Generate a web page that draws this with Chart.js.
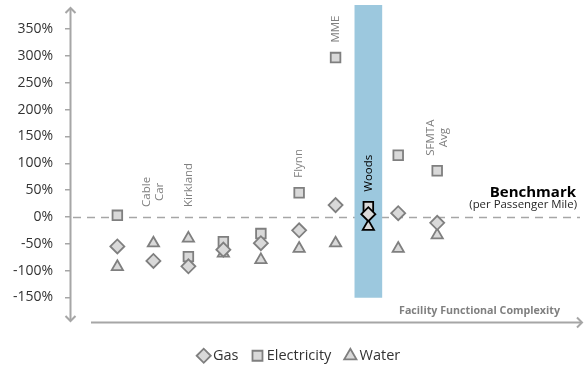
<!DOCTYPE html>
<html>
<head>
<meta charset="utf-8">
<script src="https://cdn.jsdelivr.net/npm/chart.js@4/dist/chart.umd.min.js"></script>
<style>
  html, body { margin: 0; padding: 0; background: #ffffff; }
  canvas { display: block; }
</style>
</head>
<body>
<canvas id="chart" width="586" height="366"></canvas>
<script>
// Facilities, ordered by functional complexity (x) — multi-line names are arrays of lines
const facilities = [[], ['Cable', 'Car'], ['Kirkland'], [], [], ['Flynn'], ['MME'], ['Woods'], [], ['SFMTA', 'Avg']];
const complexity = [1.0, 1.99, 2.95, 3.91, 4.94, 5.99, 6.99, 7.89, 8.71, 9.78];

// Consumption relative to benchmark (%)
const gas         = [-55, -82, -92, -61, -49, -25, 22, 5, 7, -11];
const electricity = [3, null, -74, -46, -31, 45, 297, 19, 115, 86];
const water       = [-93, -49, -40, -68, -80, -59, -49, -18, -59, -34];

const yTickValues = [-150, -100, -50, 0, 50, 100, 150, 200, 250, 300, 350];
const highlightName = 'Woods';
const highlightSpan = [-150, 395];

const benchmarkTitle = 'Benchmark';
const benchmarkNote = '(per Passenger Mile)';
const xAxisTitle = 'Facility Functional Complexity';

const FONT = "'Open Sans', 'Noto Sans', sans-serif";
const AXIS = '#a6a6a6';
const FILL = '#d9d9d9';
const EDGE = '#7f7f7f';

const hiIndex = facilities.findIndex(f => f.join(' ') === highlightName);
const toPoints = vals => vals.map((v, i) => ({ x: complexity[i], y: v }));
const edgeFor = ctx => ctx.dataIndex === hiIndex ? '#000000' : EDGE;

function arrowHead(ctx, x, y, dx, dy, size) {
  // open chevron pointing in direction (dx, dy)
  const px = -dy, py = dx;
  ctx.beginPath();
  ctx.moveTo(x - dx * size + px * size, y - dy * size + py * size);
  ctx.lineTo(x, y);
  ctx.lineTo(x - dx * size - px * size, y - dy * size - py * size);
  ctx.stroke();
}

const decorations = {
  id: 'decorations',
  afterLayout(chart) {
    // legend sits a little right of the canvas centre
    if (chart.legend) {
      chart.legend.left += 11;
      chart.legend.right += 11;
    }
  },
  beforeDatasetsDraw(chart) {
    const { ctx, chartArea: a, scales: { y } } = chart;
    const y0 = Math.round(y.getPixelForValue(0)) + 0.5;
    ctx.save();
    ctx.strokeStyle = AXIS;
    ctx.lineWidth = 1.5;
    ctx.setLineDash([8, 6]);
    ctx.beginPath();
    ctx.moveTo(a.left + 3, y0);
    ctx.lineTo(a.right, y0);
    ctx.stroke();
    ctx.restore();
  },
  afterDatasetsDraw(chart) {
    const { ctx, chartArea: a, scales: { x, y } } = chart;
    ctx.save();

    // y axis with arrows at both ends
    ctx.strokeStyle = AXIS;
    ctx.lineWidth = 2;
    ctx.lineCap = 'butt';
    const ax = a.left + 0.5;
    ctx.beginPath();
    ctx.moveTo(ax, a.top + 3);
    ctx.lineTo(ax, a.bottom);
    ctx.stroke();
    arrowHead(ctx, ax, a.top + 3, 0, -1, 5);
    arrowHead(ctx, ax, a.bottom, 0, 1, 5);

    // x axis arrow
    const xy = a.bottom + 1.5;
    ctx.beginPath();
    ctx.moveTo(a.left + 21, xy);
    ctx.lineTo(a.right + 2, xy);
    ctx.stroke();
    arrowHead(ctx, a.right + 2, xy, 1, 0, 5);

    // x axis title
    ctx.fillStyle = '#7f7f7f';
    ctx.font = `bold 10.7px ${FONT}`;
    ctx.textAlign = 'right';
    ctx.textBaseline = 'middle';
    ctx.fillText(xAxisTitle, a.right - 20, a.bottom - 10);

    // benchmark caption
    const y0 = y.getPixelForValue(0);
    ctx.fillStyle = '#000000';
    ctx.font = `bold 15px ${FONT}`;
    ctx.fillText(benchmarkTitle, a.right - 4, y0 - 24);
    ctx.font = `11.4px ${FONT}`;
    ctx.fillStyle = '#262626';
    ctx.fillText(benchmarkNote, a.right - 3, y0 - 12);

    // facility names, rotated, above the highest marker
    ctx.font = `11.5px ${FONT}`;
    facilities.forEach((lines, i) => {
      if (!lines.length) return;
      const vals = [gas[i], electricity[i], water[i]].filter(v => v !== null);
      const top = Math.max(...vals);
      const base = Math.min(y.getPixelForValue(top) - 15, y0 - 10);
      const px = x.getPixelForValue(complexity[i]);
      const w = Math.max(...lines.map(l => ctx.measureText(l).width));
      ctx.save();
      ctx.translate(px, base);
      ctx.rotate(-Math.PI / 2);
      ctx.fillStyle = i === hiIndex ? '#000000' : '#7f7f7f';
      ctx.textAlign = 'center';
      ctx.textBaseline = 'middle';
      const lh = 13;
      lines.forEach((l, k) => {
        ctx.fillText(l, w / 2, (k - (lines.length - 1) / 2) * lh);
      });
      ctx.restore();
    });

    ctx.restore();
  }
};

Chart.defaults.font.family = FONT;

new Chart(document.getElementById('chart'), {
  type: 'scatter',
  data: {
    datasets: [
      {
        label: 'Gas',
        data: toPoints(gas),
        pointStyle: 'rectRot',
        pointRadius: 7,
        pointBorderWidth: 1.8,
        backgroundColor: FILL,
        borderColor: EDGE,
        pointBackgroundColor: FILL,
        pointBorderColor: edgeFor,
        order: 0
      },
      {
        label: 'Electricity',
        data: toPoints(electricity),
        pointStyle: 'rect',
        pointRadius: 6.8,
        pointBorderWidth: 1.8,
        backgroundColor: FILL,
        borderColor: EDGE,
        pointBackgroundColor: FILL,
        pointBorderColor: edgeFor,
        order: 1
      },
      {
        label: 'Water',
        data: toPoints(water),
        pointStyle: 'triangle',
        pointRadius: 6.5,
        pointBorderWidth: 1.8,
        backgroundColor: FILL,
        borderColor: EDGE,
        pointBackgroundColor: FILL,
        pointBorderColor: edgeFor,
        order: 2
      },
      {
        type: 'bar',
        label: highlightName,
        data: [{ x: complexity[hiIndex], y: highlightSpan }],
        backgroundColor: '#9cc8de',
        borderWidth: 0,
        barThickness: 27,
        order: 10
      }
    ]
  },
  options: {
    responsive: false,
    animation: false,
    devicePixelRatio: 1,
    layout: { autoPadding: false, padding: { top: 5, right: 6, bottom: 0, left: 0 } },
    scales: {
      x: {
        type: 'linear',
        min: -0.3,
        max: 13.7,
        offset: false,
        display: true,
        ticks: { display: false },
        grid: { display: false, offset: false },
        border: { display: false },
        afterFit(scale) {
          scale.height = 10.5;
          scale.paddingLeft = 0;
          scale.paddingRight = 0;
        }
      },
      y: {
        type: 'linear',
        min: -194,
        max: 395,
        afterBuildTicks(scale) { scale.ticks = yTickValues.map(v => ({ value: v })); },
        afterFit(scale) {
          scale.width = 70;
          scale.paddingTop = 0;
          scale.paddingBottom = 0;
        },
        ticks: {
          padding: 12,
          color: '#333333',
          font: { size: 14, lineHeight: 0.6 },
          callback: v => v + '%'
        },
        grid: {
          drawOnChartArea: false,
          drawTicks: true,
          tickLength: 5,
          color: AXIS,
          lineWidth: 1.5
        },
        border: { display: false }
      }
    },
    plugins: {
      tooltip: { enabled: false },
      legend: {
        position: 'bottom',
        maxHeight: 34.5,
        labels: {
          usePointStyle: true,
          boxWidth: 4,
          boxHeight: 10,
          padding: 17,
          color: '#333333',
          font: { size: 14.5 },
          filter: item => item.datasetIndex < 3
        }
      }
    }
  },
  plugins: [decorations]
});
</script>
</body>
</html>
